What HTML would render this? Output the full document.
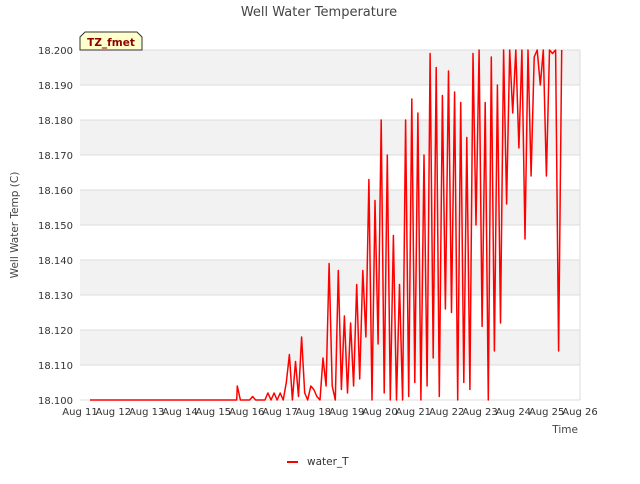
<!DOCTYPE html>
<html><head><meta charset="utf-8"><style>
body{margin:0;background:#fff;font-family:"DejaVu Sans","Liberation Sans",sans-serif}
</style></head><body>
<svg id="chart" width="640" height="480" xmlns="http://www.w3.org/2000/svg" font-family="DejaVu Sans, Liberation Sans, sans-serif">
<text x="319" y="16" text-anchor="middle" font-size="13" fill="#444">Well Water Temperature</text>
<g id="bands"></g>
<g id="grid"></g>
<g id="yticks"></g>
<g id="xticks"></g>
<text transform="translate(18,225) rotate(-90)" text-anchor="middle" font-size="10.5" fill="#444">Well Water Temp (C)</text>
<text x="578" y="433" text-anchor="end" font-size="10.5" fill="#444">Time</text>
<defs><clipPath id="pc"><rect x="80" y="49" width="500" height="352"/></clipPath></defs>
<path id="series" clip-path="url(#pc)" fill="none" stroke="#ff0000" stroke-width="1.5" stroke-linejoin="round"/>
<g>
<path d="M80,50 L80,37 L85,32 L137,32 L142,37 L142,50 Z" fill="#ffffcc" stroke="#333" stroke-width="1"/>
<text x="111" y="46" text-anchor="middle" font-size="10.5" font-weight="bold" fill="#8b0000">TZ_fmet</text>
</g>
<g>
<line x1="287" y1="462" x2="298" y2="462" stroke="#ff0000" stroke-width="2"/>
<text x="307" y="465" font-size="10.5" fill="#333">water_T</text>
</g>
</svg>
<script>
const xTickLabels=["Aug 11","Aug 12","Aug 13","Aug 14","Aug 15","Aug 16","Aug 17","Aug 18","Aug 19","Aug 20","Aug 21","Aug 22","Aug 23","Aug 24","Aug 25","Aug 26"];
const yTickValues=[18.100,18.110,18.120,18.130,18.140,18.150,18.160,18.170,18.180,18.190,18.200];
const flatStartDay=0.3;
const flatStepDay=0.1;
const flatValues=[18.100,18.100,18.100,18.100,18.100,18.100,18.100,18.100,18.100,18.100,18.100,18.100,18.100,18.100,18.100,18.100,18.100,18.100,18.100,18.100,18.100,18.100,18.100,18.100,18.100,18.100,18.100,18.100,18.100,18.100,18.100,18.100,18.100,18.100,18.100,18.100,18.100,18.100,18.100,18.100,18.100,18.100,18.100,18.100,18.100];
const activeStartDay=4.72;
const activeStepDay=0.0918;
const activeValues=[
18.104,18.100,18.100,18.100,18.100,18.101,18.100,18.100,18.100,18.100,18.102,18.100,
18.102,18.100,18.102,18.100,18.105,18.113,18.100,18.111,18.101,18.118,
18.102,18.100,18.104,18.103,18.101,18.100,18.112,18.104,18.139,18.104,
18.100,18.137,18.103,18.124,18.102,18.122,18.104,18.133,18.106,18.137,
18.118,18.163,18.100,18.157,18.116,18.180,18.102,18.170,18.100,18.147,
18.100,18.133,18.100,18.180,18.101,18.186,18.105,18.182,18.100,18.170,
18.104,18.199,18.112,18.195,18.101,18.187,18.126,18.194,18.125,18.188,
18.100,18.185,18.105,18.175,18.103,18.199,18.150,18.200,18.121,18.185,
18.100,18.198,18.114,18.190,18.122,18.200,18.156,18.200,18.182,18.200,
18.172,18.200,18.146,18.200,18.164,18.198,18.200,18.190,18.200,18.164,
18.200,18.199,18.200,18.114,18.200];
const X0=80,X1=580,Y0=400,Y1=50,YMIN=18.1,YMAX=18.2;
function xScale(d){return X0+(X1-X0)*d/(xTickLabels.length-1);}
function yScale(v){return Y0-(Y0-Y1)*(v-YMIN)/(YMAX-YMIN);}
const NS="http://www.w3.org/2000/svg";
function mk(tag,attrs,parent){const e=document.createElementNS(NS,tag);for(const k in attrs)e.setAttribute(k,attrs[k]);document.getElementById(parent).appendChild(e);return e;}
for(let i=0;i<yTickValues.length-1;i++){
 if(i%2===1){
  const r=mk("rect",{x:X0,y:yScale(yTickValues[i+1]),width:X1-X0,height:yScale(yTickValues[i])-yScale(yTickValues[i+1]),fill:"#f2f2f2"},"bands");
  
  
 }
}
yTickValues.forEach(v=>{
 const y=yScale(v);
 const l=mk("line",{x1:X0,x2:X1,y1:y,y2:y,stroke:"#dcdcdc","stroke-width":1},"grid");
 
 
 const t=mk("text",{x:73,y:y+4,"text-anchor":"end","font-size":10,fill:"#333"},"yticks");
 
 
 t.textContent=v.toFixed(3);
});
const vl=mk("line",{x1:X1,x2:X1,y1:Y1,y2:Y0,stroke:"#dcdcdc"},"grid");


xTickLabels.forEach((s,i)=>{
 const x=xScale(i);
 const t=mk("text",{x:x,y:415,"text-anchor":"middle","font-size":10,fill:"#333"},"xticks");
 
 
 t.textContent=s;
});
let d="";
flatValues.forEach((v,i)=>{const x=xScale(flatStartDay+i*flatStepDay),y=yScale(v);d+=(i?"L":"M")+x.toFixed(1)+","+y.toFixed(1);});
activeValues.forEach((v,i)=>{const x=xScale(activeStartDay+i*activeStepDay),y=yScale(v);d+="L"+x.toFixed(1)+","+y.toFixed(1);});
document.getElementById("series").setAttribute("d",d);
</script>
</body></html>
